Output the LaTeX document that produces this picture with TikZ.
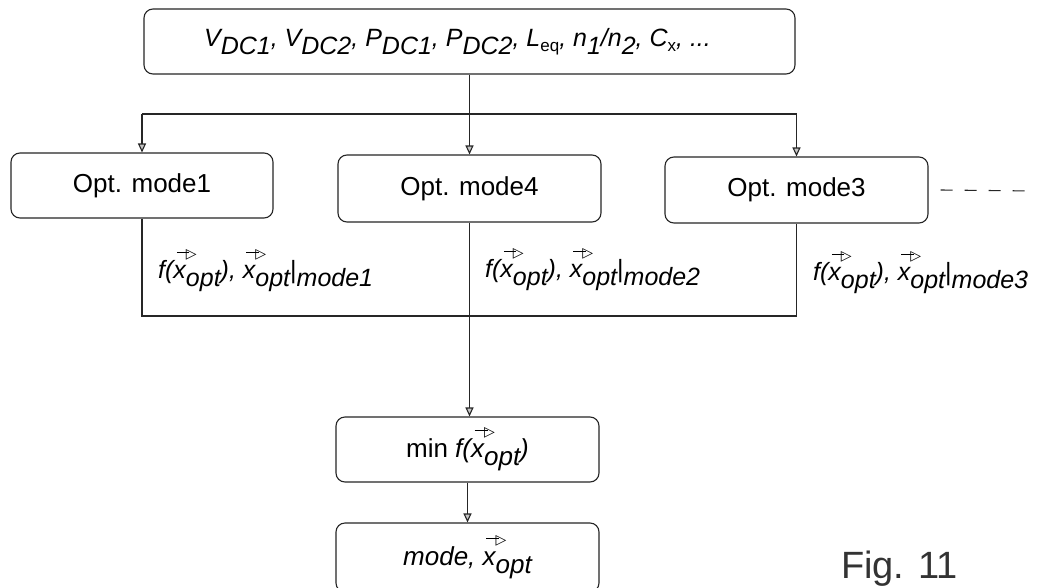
\documentclass[tikz,border=0pt]{standalone}
\usepackage{fontspec}
\setmainfont{Liberation Sans}
\newfontfamily\dejavu{DejaVu Sans}
\usetikzlibrary{arrows.meta}
\newcommand\sbi[1]{\raisebox{-0.34em}{#1}}
\newcommand\sbs[1]{\raisebox{-0.22em}{\fontsize{17}{17}\selectfont\upshape #1}}
\newcommand\vx{\rlap{\raisebox{0.78em}{\kern0.14em\rule[0.205em]{0.5em}{0.07em}\kern-0.14em{\dejavu\upshape\fontsize{14}{14}\selectfont ▷}}}x}
\tikzset{
  box/.style={draw=black!85, rounded corners=9pt, line width=1.1pt, inner sep=0pt,
    font=\fontsize{26}{30}\selectfont},
  lbl/.style={anchor=base west, inner sep=0pt, font=\fontsize{25}{30}\selectfont\itshape},
  conn/.style={draw=black!85, line width=1.1pt},
  arr/.style={conn, -{Triangle[length=9pt,width=8pt,fill=gray!45]}},
}
\begin{document}
\begin{tikzpicture}[x=1pt,y=-1pt]
\useasboundingbox (0,0) rectangle (1045,587);
\clip (0,0) rectangle (1045,587);
\fill[white] (0,0) rectangle (1045,587);

\node[box, minimum width=651pt, minimum height=65pt, font=\fontsize{25}{30}\selectfont] (top) at (469.5,41.5)
  {\itshape V\sbi{DC1}, V\sbi{DC2}, P\sbi{DC1}, P\sbi{DC2}, L\sbs{eq}, n\sbi{1}/n\sbi{2}, C\sbs{x}, ...\kern24pt};

\node[box, minimum width=262pt, minimum height=65pt] (mode1) at (142,185.5) {Opt. mode1};
\node[box, minimum width=263pt, minimum height=67pt] (mode4) at (469.5,188.5) {Opt. mode4};
\node[box, minimum width=263pt, minimum height=66pt] (mode3) at (796.5,190) {Opt. mode3};

\node[box, minimum width=263pt, minimum height=65pt] (min) at (467.5,449.5)
  {min \textit{f(\vx\sbi{opt})}};
\node[box, minimum width=263pt, minimum height=69pt] (res) at (467.5,557.5)
  {\itshape mode, \vx\sbi{opt}};

\coordinate (bus) at (0,114);
\coordinate (obus) at (0,316);
\coordinate (dend) at (1033,191);

\draw[arr] (top.south) -- (mode4.north);
\draw[conn] (mode1.north |- bus) -- (mode3.north |- bus);
\draw[arr] (mode1.north |- bus) -- (mode1.north);
\draw[arr] (mode3.north |- bus) -- (mode3.north);

\draw[conn, dash pattern=on 12pt off 12pt] ([xshift=12pt]mode3.east) -- (dend);

\draw[conn] (mode1.south) -- (mode1.south |- obus) -- (mode3.south |- obus) -- (mode3.south);
\draw[arr] (mode4.south) -- (mode4.south |- min.north);
\draw[arr] (min.south) -- (res.north);

\node[lbl] (l1) at (158,278) {f(\vx\sbi{opt}), \vx\sbi{opt}{\upshape|}\sbi{mode1}};
\node[lbl] (l2) at (485,277) {f(\vx\sbi{opt}), \vx\sbi{opt}{\upshape|}\sbi{mode2}};
\node[lbl] (l3) at (813,280) {f(\vx\sbi{opt}), \vx\sbi{opt}{\upshape|}\sbi{mode3}};

\node[anchor=north west, inner sep=0pt, font=\fontsize{38}{38}\selectfont, text=black!80] (fig) at (841,551) {Fig. 11};
\end{tikzpicture}
\end{document}
